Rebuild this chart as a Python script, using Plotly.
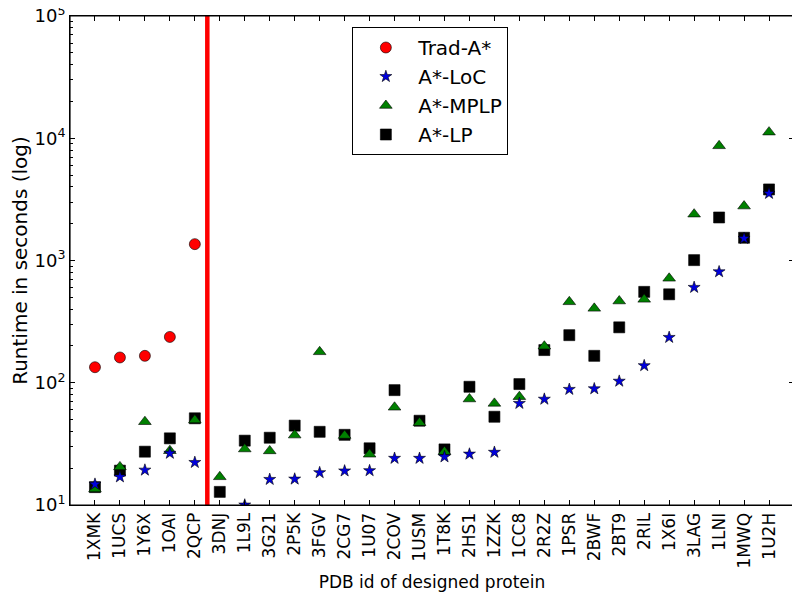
import plotly.graph_objects as go

proteins = ["1XMK", "1UCS", "1Y6X", "1OAI", "2QCP", "3DNJ", "1L9L", "3G21", "2P5K", "3FGV",
            "2CG7", "1U07", "2COV", "1USM", "1T8K", "2HS1", "1ZZK", "1CC8", "2R2Z", "1PSR",
            "2BWF", "2BT9", "2RIL", "1X6I", "3LAG", "1LNI", "1MWQ", "1U2H"]

trad_astar = [134, 161, 166, 237, 1361] + [None] * 23

astar_loc = [14.8, 17.0, 19.3, 26.5, 22.3, None, 10.0, 16.2, 16.3, 18.4,
             19.0, 19.1, 24.1, 24.1, 24.8, 26.1, 27.0, 67.8, 73.4, 88.3,
             89.3, 103, 138, 235, 603, 809, 1517, 3541]

astar_mplp = [13.5, 20.5, 48, 27.8, 49.5, 17.0, 28.7, 27.7, 37.3, 179,
              37, 26.0, 63, 47.1, 27.3, 73.6, 67.8, 76.9, 199, 459,
              406, 466, 481, 715, 2393, 8670, 2786, 11220]

astar_lp = [14.0, 19.1, 27.3, 35.1, 51.2, 12.8, 33.6, 35.5, 44.6, 39.7,
            37.5, 29.1, 87, 48.9, 28.5, 92.7, 52.7, 97.5, 185, 245,
            166, 284, 554, 529, 1007, 2249, 1535, 3813]

y_major = [10, 100, 1000, 10000, 100000]
y_major_text = ["10<sup>1</sup>", "10<sup>2</sup>", "10<sup>3</sup>", "10<sup>4</sup>", "10<sup>5</sup>"]
y_minor = [m * 10 ** e for e in range(1, 5) for m in range(2, 10)]

split_position = 4.5

font_family = "DejaVu Sans"
edge = dict(color="black", width=0.6)

fig = go.Figure()
fig.add_trace(go.Scatter(x=proteins, y=astar_lp, mode="markers", name="A*-LP", legendrank=4,
                         marker=dict(symbol="square", size=11, color="black", line=edge)))
fig.add_trace(go.Scatter(x=proteins, y=astar_mplp, mode="markers", name="A*-MPLP", legendrank=3,
                         marker=dict(symbol="triangle-up", size=11, color="#008000", line=edge)))
fig.add_trace(go.Scatter(x=proteins, y=astar_loc, mode="markers", name="A*-LoC", legendrank=2,
                         marker=dict(symbol="star", size=9, color="#0000DD", line=edge)))
fig.add_trace(go.Scatter(x=proteins, y=trad_astar, mode="markers", name="Trad-A*", legendrank=1,
                         marker=dict(symbol="circle", size=11, color="#FF0000", line=edge)))

fig.add_shape(type="line", xref="x", yref="paper", x0=split_position, x1=split_position,
              y0=0, y1=1, line=dict(color="#FF0000", width=4.5), layer="above")
# axes frame
fig.add_shape(type="rect", xref="paper", yref="paper", x0=0, x1=1, y0=0, y1=1,
              line=dict(color="black", width=1.2), fillcolor="rgba(0,0,0,0)", layer="above")

# the page body has an 8px margin, so the figure is sized and offset to compensate
fig.update_layout(
    width=792, height=584,
    margin=dict(l=62, r=6, t=8, b=87, autoexpand=False),
    paper_bgcolor="white", plot_bgcolor="white",
    font=dict(family=font_family, color="black"),
    legend=dict(x=0.39, y=0.9775, xanchor="left", yanchor="top",
                bordercolor="black", borderwidth=1, bgcolor="white",
                font=dict(size=20, family=font_family), tracegroupgap=0,
                itemwidth=55),
    showlegend=True,
)

fig.update_xaxes(
    type="category", categoryorder="array", categoryarray=proteins,
    range=[-1, 28], showgrid=False, zeroline=False, automargin=False,
    showline=True, linecolor="black", linewidth=1, mirror="allticks",
    ticks="inside", ticklen=5, tickcolor="black", tickangle=-90,
    tickfont=dict(size=17, family=font_family),
    title=dict(text="PDB id of designed protein", font=dict(size=17, family=font_family), standoff=10),
)

fig.update_yaxes(
    type="log", range=[1, 5], showgrid=False, zeroline=False, automargin=False,
    showline=True, linecolor="black", linewidth=1, mirror="allticks",
    ticks="inside", ticklen=5, tickcolor="black", ticklabeloverflow="allow",
    tickmode="array", tickvals=y_major, ticktext=y_major_text,
    tickfont=dict(size=18, family=font_family),
    minor=dict(ticks="inside", ticklen=2.5, tickcolor="black", tickmode="array", tickvals=y_minor, showgrid=False),
    title=dict(text="Runtime in seconds (log)", font=dict(size=20, family=font_family), standoff=8),
)

fig.write_html("out.html")
